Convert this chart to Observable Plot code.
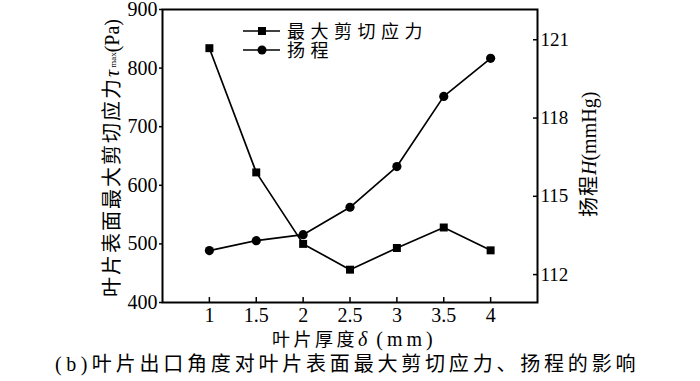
<!DOCTYPE html>
<html><head><meta charset="utf-8">
<script src="https://cdn.jsdelivr.net/npm/d3@7"></script>
<script src="https://cdn.jsdelivr.net/npm/@observablehq/plot@0.6"></script>
<style>
html,body{margin:0;padding:0;background:#fff;}
</style>
</head><body><div id="chart"></div>
<script>
// ---- data ----
const thickness = [1, 1.5, 2, 2.5, 3, 3.5, 4];
const shearStress = [834, 622, 500, 456, 493, 528, 489];          // Pa (left axis)
const head = [112.92, 113.3, 113.53, 114.58, 116.14, 118.83, 120.29]; // mmHg (right axis)
const xTicks = [1, 1.5, 2, 2.5, 3, 3.5, 4];
const leftTicks = [400, 500, 600, 700, 800, 900];
const rightTicks = [112, 115, 118, 121];
const leftDomain = [400, 900];
const rightDomain = [110.93, 122.16];
const xDomain = [0.5, 4.5];
const legendLabels = ["最大剪切应力", "扬程"];
const caption = "叶片出口角度对叶片表面最大剪切应力、扬程的影响";

const serif = "'Liberation Serif','Times New Roman',serif";
const cjk = "'Noto Sans CJK SC','Noto Sans CJK JP',sans-serif";

const k = (leftDomain[1] - leftDomain[0]) / (rightDomain[1] - rightDomain[0]);
const toLeft = v => leftDomain[0] + (v - rightDomain[0]) * k;
const fromLeft = v => rightDomain[0] + (v - leftDomain[0]) / k;

const stressData = thickness.map((x, i) => ({x, y: shearStress[i]}));
const headData = thickness.map((x, i) => ({x, y: toLeft(head[i])}));

const plot = Plot.plot({
  width: 700, height: 381,
  marginLeft: 162, marginRight: 163, marginTop: 9, marginBottom: 79,
  style: {fontFamily: serif, fontSize: "20px", color: "#000", background: "#fff", overflow: "visible"},
  x: {domain: xDomain},
  y: {domain: leftDomain},
  marks: [
    Plot.axisX({ticks: xTicks, tickSize: -5, tickPadding: 10, tickFormat: d => String(d), label: null,
      strokeWidth: 1.5, fontFamily: serif, fontSize: 20}),
    Plot.axisY({anchor: "left", ticks: leftTicks, tickSize: 3, tickPadding: 2, tickFormat: d => String(d), label: null,
      strokeWidth: 1.5, fontFamily: serif, fontSize: 20}),
    Plot.axisY({anchor: "right", ticks: rightTicks.map(toLeft), tickSize: -5, tickPadding: 8,
      tickFormat: d => String(Math.round(fromLeft(d))), label: null, fontSize: 19, fontFamily: serif, strokeWidth: 1.5}),
    Plot.frame({stroke: "#000", strokeWidth: 2}),
    Plot.line(stressData, {x: "x", y: "y", stroke: "#000", strokeWidth: 1.7}),
    Plot.dot(stressData, {x: "x", y: "y", symbol: "square", r: 4.5, fill: "#000", stroke: "none"}),
    Plot.line(headData, {x: "x", y: "y", stroke: "#000", strokeWidth: 1.7}),
    Plot.dot(headData, {x: "x", y: "y", symbol: "circle", r: 4.6, fill: "#000", stroke: "none"})
  ]
});
document.getElementById("chart").appendChild(plot);

const svg = d3.select(plot);
svg.attr("font-family", serif).style("font-family", serif);

function addText(attrs) {
  const t = svg.append("text").attr("text-anchor", "start").attr("fill", "#000");
  for (const [a, v] of Object.entries(attrs)) t.attr(a, v);
  return t;
}

// legend
const legendRows = [{y: 31, sym: "square"}, {y: 50, sym: "circle"}];
legendLabels.forEach((lab, i) => {
  const r = legendRows[i];
  svg.append("line").attr("x1", 243).attr("x2", 280).attr("y1", r.y).attr("y2", r.y)
    .attr("stroke", "#000").attr("stroke-width", 1.7);
  if (r.sym === "square") {
    svg.append("rect").attr("x", 262 - 4).attr("y", r.y - 4).attr("width", 8).attr("height", 8).attr("fill", "#000");
  } else {
    svg.append("circle").attr("cx", 262).attr("cy", r.y).attr("r", 4.5).attr("fill", "#000");
  }
  addText({x: 287, y: r.y + 6.5, "font-family": cjk, "font-size": 18, "letter-spacing": 5.5}).text(lab);
});

// left axis title
const lt = addText({transform: "translate(119,297) rotate(-90)", "font-family": serif, "font-size": 20});
lt.append("tspan").attr("font-family", cjk).attr("letter-spacing", 2).text("叶片表面最大剪切应力");
lt.append("tspan").attr("font-style", "italic").text("τ");
lt.append("tspan").attr("font-size", 9).attr("dy", -3).attr("dx", 2).text("max");
lt.append("tspan").attr("dy", 3).text("(Pa)");

// right axis title
const rt = addText({transform: "translate(596,217) rotate(-90)", "font-family": serif, "font-size": 20});
rt.append("tspan").attr("font-family", cjk).attr("letter-spacing", 1).text("扬程");
rt.append("tspan").attr("font-style", "italic").text("H");
rt.append("tspan").text("(mmHg)");

// x axis title
const xt = addText({x: 272, y: 346, "font-family": serif, "font-size": 20});
xt.append("tspan").attr("font-family", cjk).attr("font-size", 18).attr("letter-spacing", 3.5).text("叶片厚度");
xt.append("tspan").attr("font-style", "italic").text("δ");
xt.append("tspan").attr("letter-spacing", 4).text(" (mm)");

// caption
const ct = addText({x: 55, y: 371, "font-family": serif, "font-size": 20});
ct.append("tspan").attr("letter-spacing", 4.5).text("(b)");
ct.append("tspan").attr("font-family", cjk).attr("letter-spacing", 3.8).text(caption);
</script>
</body></html>
